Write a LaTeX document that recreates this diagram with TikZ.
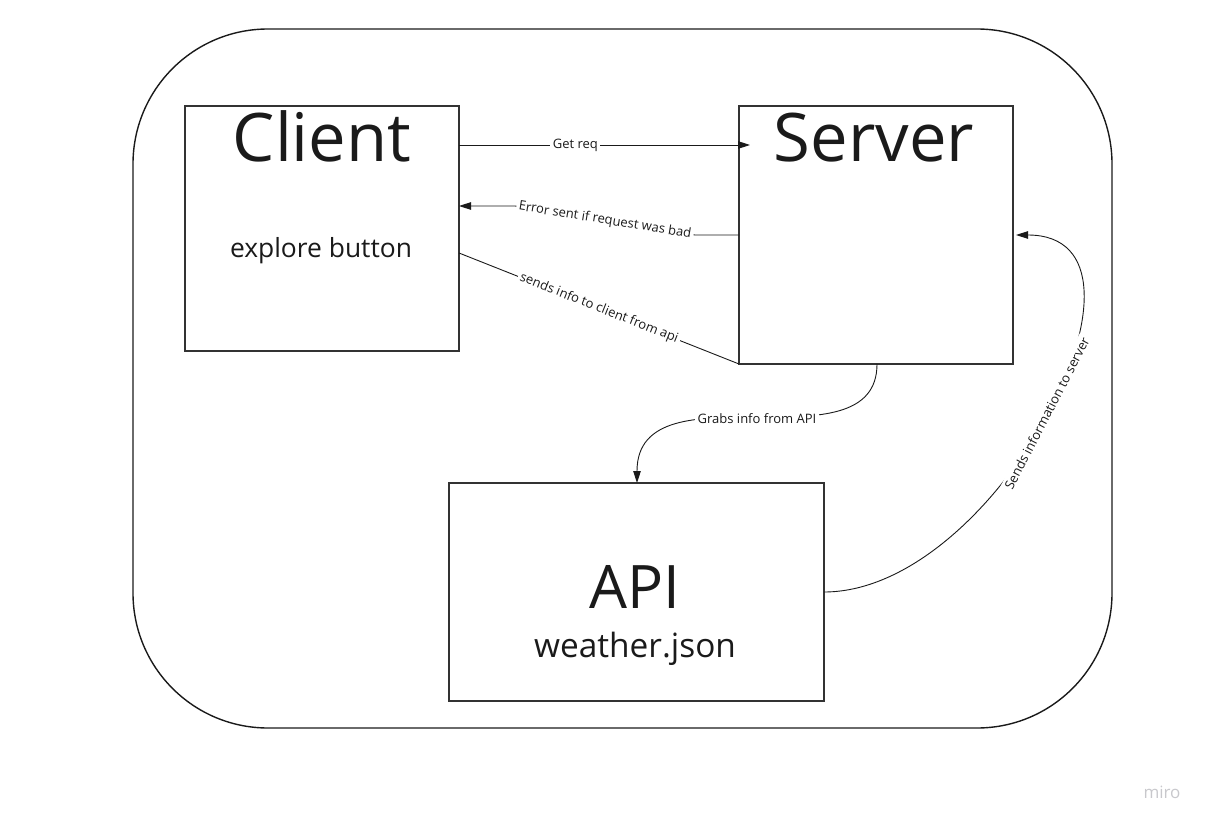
\documentclass[tikz,border=0pt]{standalone}
\usepackage{fontspec}
\setmainfont{Open Sans}
\usetikzlibrary{arrows.meta,calc}
\definecolor{boxline}{HTML}{333333}
\definecolor{txt}{HTML}{1A1A1A}
\definecolor{wm}{HTML}{C8C8CC}
\tikzset{
  boxnode/.style={draw=boxline,line width=1.8pt,inner sep=0pt,outer sep=0pt},
  outerbox/.style={draw=txt,line width=1.4pt,rounded corners=135pt},
  bigtxt/.style={text=txt,inner sep=0pt,anchor=base,font=\fontsize{67}{70}\selectfont},
  midtxt/.style={text=txt,inner sep=0pt,anchor=base,font=\fontsize{26.4}{30}\selectfont},
  lbl/.style={fill=white,text=txt,inner sep=2.5pt,font=\fontsize{13}{15}\selectfont},
  conn/.style={draw=txt,line width=0.9pt},
  arr/.style={conn,-{Triangle[length=12pt,width=7.5pt]}}
}
\begin{document}
\begin{tikzpicture}[x=1pt,y=-1pt]
\useasboundingbox (0,0) rectangle (1209,826);
\draw[outerbox] (133,29) rectangle (1112,728);
% boxes
\node[boxnode,minimum width=274pt,minimum height=245pt,anchor=north west] (client) at (185,106) {};
\node[boxnode,minimum width=274pt,minimum height=258pt,anchor=north west] (server) at (739,106) {};
\node[boxnode,minimum width=375pt,minimum height=218pt,anchor=north west] (api) at (449,483) {};
% texts
\node[bigtxt] (clientT) at (322,162) {Client};
\node[midtxt] (clientS) at (321,258) {explore button};
\node[bigtxt] (serverT) at (874,162) {Server};
\node[bigtxt,font=\fontsize{60}{64}\selectfont] (apiT) at (635,608) {API};
\node[midtxt,font=\fontsize{33.4}{36}\selectfont] (apiS) at (635,657) {weather.json};
% connectors
\draw[arr] ([yshift=-39pt]client.north east) -- ([xshift=11pt,yshift=-39pt]server.north west)
  node[lbl,pos=0.4] (getreq) {Get req};
\draw[arr] ([yshift=-129pt]server.north west) -- ++(-44,0) -- ++(-180,-29)
  node[lbl,midway,sloped] (errlbl) {Error sent if request was bad}
  -- ([yshift=-100pt]client.north east);
\draw[conn] ([yshift=-147pt]client.north east) -- (server.south west)
  node[lbl,midway,sloped] (infolbl) {sends info to client from api};
\draw[arr] ([xshift=-136pt]server.south east) .. controls +(0,107) and +(0,-120) .. ([xshift=188pt]api.north west)
  node[lbl,pos=0.5] (grablbl) {Grabs info from API};
\draw[arr] ([yshift=-109pt]api.north east) .. controls +(176,0) and +(162,0) .. ([xshift=3pt,yshift=-129pt]server.north east)
  node[lbl,pos=0.5,sloped] (sendlbl) {Sends information to server};
% watermark
\node[text=wm,font=\fontsize{17}{18}\selectfont,inner sep=0pt] (miro) at (1162,792) {miro};
\end{tikzpicture}
\end{document}
